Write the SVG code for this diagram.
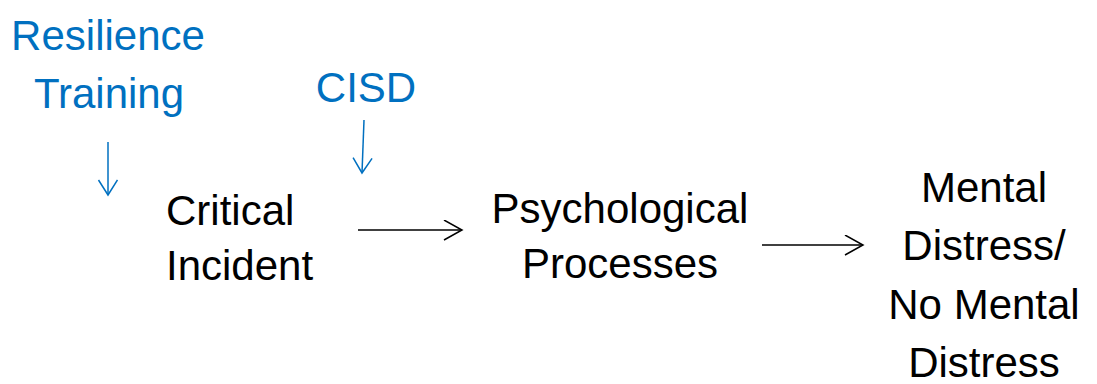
<svg xmlns="http://www.w3.org/2000/svg" width="1097" height="384" viewBox="0 0 1097 384">
<style>
.t{font-family:"Liberation Sans",Arial,sans-serif;font-size:42px;fill:#000}
.b{fill:#0070C0}
.c{text-anchor:middle}
.ln{fill:none;stroke-width:1.5}
</style>
<defs>
<marker id="ak" markerUnits="userSpaceOnUse" markerWidth="24" markerHeight="24" refX="19" refY="10" orient="auto" viewBox="0 0 24 24">
<path d="M1,0 L19,10 L1,20" fill="none" stroke="#000" stroke-width="1.5"/>
</marker>
<marker id="ab" markerUnits="userSpaceOnUse" markerWidth="24" markerHeight="24" refX="16" refY="10" orient="auto" viewBox="0 0 24 24">
<path d="M1,0.5 L16,10 L1,19.5" fill="none" stroke="#0070C0" stroke-width="1.5"/>
</marker>
</defs>
<rect width="1097" height="384" fill="#fff"/>
<g id="resilience">
<text class="t b c" x="108" y="50">Resilience</text>
<text class="t b c" x="109" y="108">Training</text>
</g>
<g id="cisd">
<text class="t b c" x="366" y="102">CISD</text>
</g>
<g id="critical">
<text class="t" x="166" y="225">Critical</text>
<text class="t" x="166" y="280">Incident</text>
</g>
<g id="psych">
<text class="t c" x="620" y="223">Psychological</text>
<text class="t c" x="620" y="278">Processes</text>
</g>
<g id="outcome">
<text class="t c" x="984" y="202">Mental</text>
<text class="t c" x="984" y="260">Distress/</text>
<text class="t c" x="984" y="319">No Mental</text>
<text class="t c" x="984" y="377">Distress</text>
</g>
<g id="connectors">
<line class="ln" x1="108" y1="142" x2="108" y2="195" stroke="#0070C0" marker-end="url(#ab)"/>
<line class="ln" x1="364" y1="120" x2="362" y2="173" stroke="#0070C0" marker-end="url(#ab)"/>
<line class="ln" x1="358" y1="230" x2="462" y2="230" stroke="#000" marker-end="url(#ak)"/>
<line class="ln" x1="762" y1="245" x2="863" y2="245" stroke="#000" marker-end="url(#ak)"/>
</g>
</svg>
